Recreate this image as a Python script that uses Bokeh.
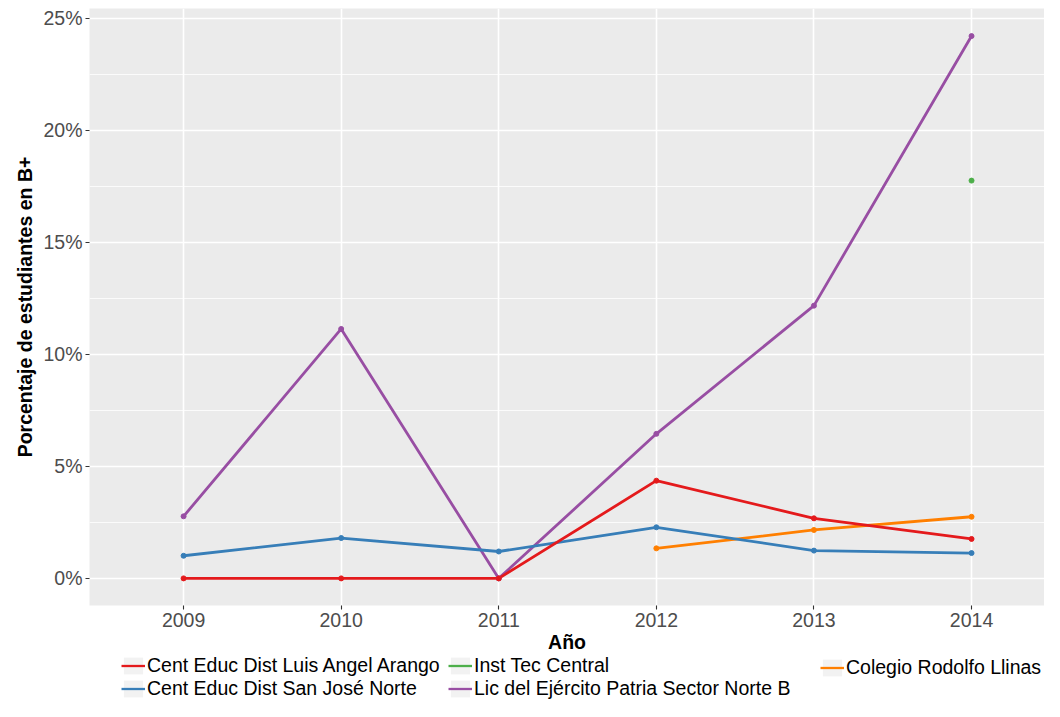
from bokeh.plotting import figure
from bokeh.layouts import column
from bokeh.models import (Legend, LegendItem, FixedTicker, SingleIntervalTicker,
                          PrintfTickFormatter, Range1d)
from bokeh.embed import file_html
from bokeh.resources import INLINE

nan = float("nan")

# ---- data (percent of students in B+) ----
years = [2009, 2010, 2011, 2012, 2013, 2014]
schools = ["Cent Educ Dist Luis Angel Arango", "Cent Educ Dist San José Norte",
           "Inst Tec Central", "Lic del Ejército Patria Sector Norte B",
           "Colegio Rodolfo Llinas"]
luis_angel_arango = [0.0, 0.0, 0.0, 4.36, 2.68, 1.76]
san_jose_norte = [1.01, 1.80, 1.20, 2.28, 1.24, 1.13]
inst_tec_central = [nan, nan, nan, nan, nan, 17.75]
lic_ejercito = [2.77, 11.13, 0.0, 6.45, 12.17, 24.20]
rodolfo_llinas = [nan, nan, nan, 1.34, 2.16, 2.75]
colors = ["#E41A1C", "#377EB8", "#4DAF4A", "#984EA3", "#FF7F00"]
series = [luis_angel_arango, san_jose_norte, inst_tec_central, lic_ejercito, rodolfo_llinas]
y_tick_format = "%d%%"

FONT = "Liberation Sans"
FS = "19.5px"
W = 1044
LEFT = 89
MAIN_H = 655
LEG_H = 46

p = figure(width=W, height=MAIN_H, output_backend="svg", toolbar_location=None,
           x_range=Range1d(2008.403, 2014.463), y_range=Range1d(-1.21, 25.43),
           min_border_left=LEFT, min_border_right=0, min_border_top=8, min_border_bottom=50)

p.background_fill_color = "#EBEBEB"
p.border_fill_color = "white"
p.outline_line_color = None

for ax in (p.xaxis[0], p.yaxis[0]):
    ax.axis_line_color = None
    ax.major_tick_line_color = "#333333"
    ax.major_tick_line_width = 1.1
    ax.major_tick_out = 4
    ax.major_tick_in = 0
    ax.minor_tick_line_color = None
    ax.major_label_text_font = FONT
    ax.major_label_text_font_size = FS
    ax.major_label_text_color = "#4D4D4D"
    ax.axis_label_text_font = FONT
    ax.axis_label_text_font_size = FS
    ax.axis_label_text_font_style = "bold"
    ax.axis_label_text_color = "black"

p.xaxis.ticker = FixedTicker(ticks=years)
p.xaxis.major_label_standoff = 3
p.xaxis.axis_label = "Año"
p.xaxis.axis_label_standoff = 1

p.yaxis.ticker = SingleIntervalTicker(interval=5, num_minor_ticks=2)
p.yaxis.formatter = PrintfTickFormatter(format=y_tick_format)
p.yaxis.major_label_standoff = 3
p.yaxis.axis_label = "Porcentaje de estudiantes en B+"
p.yaxis.axis_label_standoff = 4

p.xgrid.grid_line_color = "white"
p.xgrid.grid_line_width = 1.6
p.xgrid.minor_grid_line_color = None
p.ygrid.grid_line_color = "white"
p.ygrid.grid_line_width = 1.6
p.ygrid.minor_grid_line_color = "white"
p.ygrid.minor_grid_line_width = 0.8

draw_order = [3, 4, 2, 1, 0]
for i in draw_order:
    p.line(years, series[i], line_color=colors[i], line_width=2.8)
for i in draw_order:
    p.scatter(years, series[i], marker="circle", size=5,
              fill_color=colors[i], line_color=colors[i])

# ---- legend strip (separate figure below) ----
lf = figure(width=W, height=LEG_H, output_backend="svg", toolbar_location=None,
            min_border=0, min_border_left=0, min_border_right=0,
            min_border_top=0, min_border_bottom=0)
lf.axis.visible = False
lf.grid.visible = False
lf.outline_line_color = None
lf.background_fill_color = "white"
lf.border_fill_color = "white"

key_bg = lf.quad(left=[nan], right=[nan], bottom=[nan], top=[nan],
                 fill_color="#F2F2F2", line_color=None)
leg_line = {}
for i in range(len(schools)):
    leg_line[i] = lf.line([nan], [nan], line_color=colors[i], line_width=2.3)

columns = [[0, 1], [2, 3], [4]]
col_x = [121 - LEFT, 448 - LEFT, 820 - LEFT]   # frames of the two figures are aligned
for cx, col in zip(col_x, columns):
    items = [LegendItem(label=schools[i], renderers=[key_bg, leg_line[i]]) for i in col]
    nrow = len(col)
    lg = Legend(items=items, location=(cx, LEG_H - 3 - 21 * nrow), orientation="vertical",
                padding=0, margin=0, spacing=0, border_line_color=None,
                background_fill_alpha=0, glyph_width=24, glyph_height=21,
                label_height=21, label_standoff=2,
                label_text_font=FONT, label_text_font_size=FS,
                label_text_color="black")
    lf.add_layout(lg, "center")

layout = column(p, lf, spacing=0)
open("out.html", "w").write(file_html(layout, INLINE))
